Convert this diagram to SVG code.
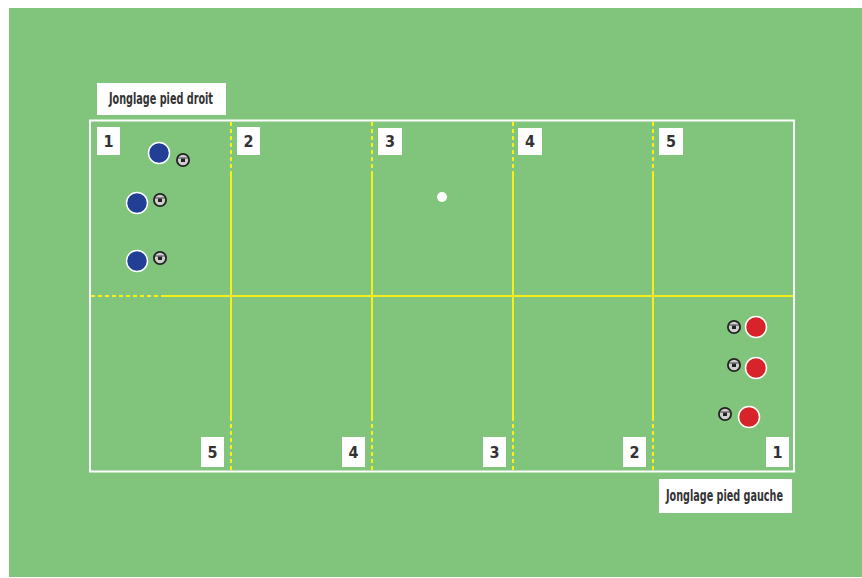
<svg xmlns="http://www.w3.org/2000/svg" width="862" height="578" viewBox="0 0 862 578">
<defs>
<style>
.lbl{fill:#fff}
.num{font-family:"DejaVu Sans Condensed","Liberation Sans Narrow","Liberation Sans",sans-serif;font-weight:bold;font-size:16px;fill:#333;text-anchor:middle}
.ttl{font-family:"DejaVu Sans Condensed","Liberation Sans Narrow","Liberation Sans",sans-serif;font-weight:bold;font-size:15px;fill:#333}
.ys{stroke:#f7ee1a;stroke-width:2;fill:none}
.yd{stroke:#f7ee1a;stroke-width:2;fill:none;stroke-dasharray:4 3}
.blue{fill:#233f95;stroke:#fff;stroke-width:1.5}
.red{fill:#d9232a;stroke:#fff;stroke-width:1.5}
</style>
<g id="ball">
<circle r="7" fill="#222"/>
<circle r="5.2" fill="#cfcfcf"/>
<rect x="-2" y="-1.5" width="4" height="3.5" fill="#222"/>
<path d="M-5,-2 L5,-2" stroke="#444" stroke-width="1"/>
</g>
</defs>
<rect x="0" y="0" width="862" height="578" fill="#fff"/>
<rect x="9" y="8" width="853" height="569" fill="#80c57b"/>
<g id="field">
<rect x="90" y="120.5" width="704" height="351" fill="none" stroke="#fff" stroke-width="2"/>
</g>
<g id="connectors">
<line class="yd" x1="91" y1="296" x2="162" y2="296"/>
<line class="ys" x1="162" y1="296" x2="793" y2="296"/>
<line class="yd" x1="231" y1="122" x2="231" y2="175"/>
<line class="ys" x1="231" y1="175" x2="231" y2="417"/>
<line class="yd" x1="231" y1="417" x2="231" y2="470"/>
<line class="yd" x1="372" y1="122" x2="372" y2="175"/>
<line class="ys" x1="372" y1="175" x2="372" y2="417"/>
<line class="yd" x1="372" y1="417" x2="372" y2="470"/>
<line class="yd" x1="513" y1="122" x2="513" y2="175"/>
<line class="ys" x1="513" y1="175" x2="513" y2="417"/>
<line class="yd" x1="513" y1="417" x2="513" y2="470"/>
<line class="yd" x1="653" y1="122" x2="653" y2="175"/>
<line class="ys" x1="653" y1="175" x2="653" y2="417"/>
<line class="yd" x1="653" y1="417" x2="653" y2="470"/>
</g>
<g id="title-droit">
<rect class="lbl" x="97" y="83" width="129" height="32"/>
<text class="ttl" x="109" y="104" textLength="104" lengthAdjust="spacingAndGlyphs">Jonglage pied droit</text>
</g>
<g id="title-gauche">
<rect class="lbl" x="659" y="479" width="133" height="34"/>
<text class="ttl" x="666" y="501" textLength="117" lengthAdjust="spacingAndGlyphs">Jonglage pied gauche</text>
</g>
<g id="top-labels">
<g id="t1"><rect class="lbl" x="97" y="127" width="23" height="28"/><text class="num" x="108.5" y="147">1</text></g>
<g id="t2"><rect class="lbl" x="237" y="127" width="23" height="28"/><text class="num" x="248.5" y="147">2</text></g>
<g id="t3"><rect class="lbl" x="378" y="128" width="24" height="27"/><text class="num" x="390" y="147">3</text></g>
<g id="t4"><rect class="lbl" x="518" y="128" width="24" height="27"/><text class="num" x="530" y="147">4</text></g>
<g id="t5"><rect class="lbl" x="659" y="128" width="24" height="27"/><text class="num" x="671" y="147">5</text></g>
</g>
<g id="bottom-labels">
<g id="b5"><rect class="lbl" x="201" y="437" width="23" height="30"/><text class="num" x="212.5" y="458">5</text></g>
<g id="b4"><rect class="lbl" x="342" y="437" width="23" height="30"/><text class="num" x="353.5" y="458">4</text></g>
<g id="b3"><rect class="lbl" x="483" y="437" width="23" height="30"/><text class="num" x="494.5" y="458">3</text></g>
<g id="b2"><rect class="lbl" x="623" y="437" width="23" height="30"/><text class="num" x="634.5" y="458">2</text></g>
<g id="b1"><rect class="lbl" x="766" y="437" width="23" height="30"/><text class="num" x="777.5" y="458">1</text></g>
</g>
<g id="blue-players">
<circle class="blue" cx="159" cy="153" r="10.5"/>
<use href="#ball" x="183" y="160"/>
<circle class="blue" cx="137" cy="203" r="10.5"/>
<use href="#ball" x="160" y="200"/>
<circle class="blue" cx="137" cy="261" r="10.5"/>
<use href="#ball" x="160" y="258"/>
</g>
<g id="red-players">
<circle class="red" cx="756" cy="327" r="10.5"/>
<use href="#ball" x="734" y="327"/>
<circle class="red" cx="756" cy="368" r="10.5"/>
<use href="#ball" x="734" y="365"/>
<circle class="red" cx="749" cy="417" r="10.5"/>
<use href="#ball" x="725" y="414"/>
</g>
<g id="white-dot">
<circle cx="442" cy="197" r="5" fill="#fff"/>
</g>
</svg>
